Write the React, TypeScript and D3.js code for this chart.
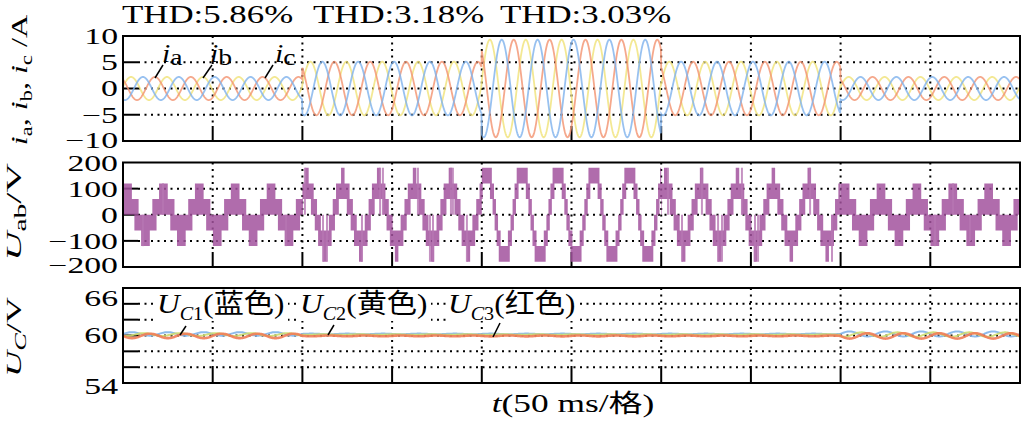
import React from "react";
import * as d3 from "d3";

const SERIF = "'Liberation Serif','Times New Roman',serif";
const CJK = "'Noto Sans CJK SC','Noto Sans CJK JP',sans-serif";

// ---------------- data ----------------
const SEGMENT_BOUNDS_MS = [0, 100, 200, 300, 400, 500];
const TIME_GRID_MS = [50, 100, 150, 200, 250, 300, 350, 400, 450];
const FUNDAMENTAL_PERIOD_MS = 20;

// phase currents: ia (red), ib (yellow), ic (blue)
const CURRENT_AMPLITUDE_A = [2.2, 5.1, 9.3, 5.1, 2.2];
const CURRENT_PEAK_MS = [17.8, 24.5, 11.1];
const CURRENT_COLORS = ["#f2926f", "#f0e278", "#7eb2ec"];
const CURRENT_DRAW_ORDER = [1, 0, 2];

// line voltage Uab: reference amplitude per segment, cell voltage step, PWM overlap band
const UAB_REFERENCE_V = [55, 105, 175, 105, 55];
const UAB_ZERO_CROSS_MS = 17.5;
const CELL_VOLTAGE_V = 60;
const UAB_SWITCH_BAND_V = 20;
const UAB_SPIKE_MS = [11.1, 22.3, 90.9, 101.4, 111.5, 113.7, 133.2, 143.3, 144.9, 164.4, 171.1, 172.8, 182.8, 183.9, 191.7,
  303.8, 311.6, 322.7, 331.7, 333.9, 345.0, 352.3, 354.0, 383.0, 395.2, 452.6, 462.7, 472.1];
const UAB_SPIKE_V = [-120, 120, -120, 180, -180, -180, -180, 180, 180, 180, -180, -180, 180, 180, -180,
  180, -180, 180, -180, -180, 180, -180, -180, 180, -180, -120, 120, -100];

// capacitor voltages UC1 (blue), UC2 (yellow), UC3 (red)
const UC_NOMINAL_V = 60;
const UC_OFFSET_V = [0.2, 0.12, -0.05];
const UC1_RIPPLE_V = [0.22, 0.04, 0.04, 0.04, 0.32];
const UC2_RIPPLE_V = [0.18, 0.04, 0.04, 0.04, 0.28];
const UC3_RIPPLE_V = [0.28, 0.05, 0.06, 0.05, 0.34];
const UC_PHASE_MS = [0, 6.7, 10];
const UC_COLORS = ["#82b4ea", "#cddc70", "#f07c56"];

// axes
const I_TICKS = [-10, -5, 0, 5, 10];
const I_GRID = [-5, 0, 5];
const UAB_TICKS = [-200, -100, 0, 100, 200];
const UAB_GRID = [-100, 0, 100];
const UC_TICKS = [54, 60, 66];
const UC_GRID = [56, 58, 60, 62, 64];
const THD_LABELS = ["THD:5.86%", "THD:3.18%", "THD:3.03%"];
const UC_LABEL_NAMES = ["C1", "C2", "C3"];
const UC_LABEL_COLORS = ["蓝色", "黄色", "红色"];

// ---------------- layout ----------------
const X0 = 123, X1 = 1020;
const P1 = [36, 141];
const P2 = [162.5, 267];
const P3 = [288, 383];
const TICK = 15;

const x = d3.scaleLinear().domain([0, 500]).range([X0, X1]);
const yI = d3.scaleLinear().domain([-10, 10]).range([P1[1], P1[0]]);
const yU = d3.scaleLinear().domain([-200, 200]).range([P2[1], P2[0]]);
const yC = d3.scaleLinear().domain([54, 66]).range([P3[1], P3[0]]);

const segOf = (t: number) => Math.min(SEGMENT_BOUNDS_MS.length - 2, Math.max(0, d3.bisectRight(SEGMENT_BOUNDS_MS, t) - 1));
const w = (2 * Math.PI) / FUNDAMENTAL_PERIOD_MS;

const tFine = d3.range(0, 500.0001, 0.2);
const tVeryFine = d3.range(0, 500.0001, 0.05);
const tCoarse = d3.range(0, 500.0001, 0.5);

function Panel({ y0, y1, scale, grid }: { y0: number; y1: number; scale: any; grid: number[] }) {
  return (
    <g>
      {grid.map((g) => (
        <g key={"h" + g}>
          <line x1={X0} x2={X0 + TICK} y1={scale(g)} y2={scale(g)} stroke="#000" strokeWidth={2} />
          <line x1={X0 + TICK} x2={X1} y1={scale(g)} y2={scale(g)} stroke="#000" strokeWidth={2} strokeDasharray="2 4.5" />
        </g>
      ))}
      {TIME_GRID_MS.map((t) => (
        <g key={"v" + t}>
          <line x1={x(t)} x2={x(t)} y1={y0} y2={y1 - TICK} stroke="#000" strokeWidth={2} strokeDasharray="2 4.5" />
          <line x1={x(t)} x2={x(t)} y1={y1 - TICK} y2={y1} stroke="#000" strokeWidth={2} />
        </g>
      ))}
    </g>
  );
}

function Border({ y0, y1 }: { y0: number; y1: number }) {
  return <rect x={X0} y={y0} width={X1 - X0} height={y1 - y0} fill="none" stroke="#000" strokeWidth={2} />;
}

function TickLabels({ ticks, scale, nudge }: { ticks: number[]; scale: any; nudge: number[] }) {
  return (
    <g>
      {ticks.map((v, i) => (
        <g key={v} transform={`translate(118,${scale(v) + nudge[i]}) scale(1.5,1)`}>
          <text textAnchor="end" dy="0.35em" fontSize={22.5} fontFamily={SERIF}>
            {v < 0 ? "\u2212" + Math.abs(v) : String(v)}
          </text>
        </g>
      ))}
    </g>
  );
}

export default function App() {
  const currentLine = (k: number) =>
    d3.line<number>()
      .x((t) => x(t))
      .y((t) => yI(CURRENT_AMPLITUDE_A[segOf(t)] * Math.cos(w * (t - CURRENT_PEAK_MS[k]))))(tFine) || "";

  const ref = (t: number) => UAB_REFERENCE_V[segOf(t)] * Math.sin(w * (t - UAB_ZERO_CROSS_MS));
  const lo = (t: number) => Math.floor((ref(t) - UAB_SWITCH_BAND_V) / CELL_VOLTAGE_V);
  const hi = (t: number) => Math.max(lo(t) + 1, Math.ceil((ref(t) + UAB_SWITCH_BAND_V) / CELL_VOLTAGE_V));
  const uabArea =
    d3.area<number>()
      .x((t) => x(t))
      .y0((t) => yU(Math.max(-3, lo(t)) * CELL_VOLTAGE_V))
      .y1((t) => yU(Math.min(3, hi(t)) * CELL_VOLTAGE_V))
      .curve(d3.curveStepAfter)(tVeryFine) || "";

  const ripples = [UC1_RIPPLE_V, UC2_RIPPLE_V, UC3_RIPPLE_V];
  const ucLine = (k: number) =>
    d3.line<number>()
      .x((t) => x(t))
      .y((t) => yC(UC_NOMINAL_V + UC_OFFSET_V[k] + ripples[k][segOf(t)] * Math.sin(w * (t - UC_PHASE_MS[k]))))(tCoarse) || "";

  const thdX = [122, 313, 500];
  const iLabelX = [162, 210, 275];
  const iSubs = ["a", "b", "c"];
  const ucLabelX = [157, 300, 448];
  const ucLeader = [
    [180, 335, 186, 326],
    [328, 335, 334, 325],
    [493, 337, 500, 323],
  ];
  const iLeader = [
    [155, 78, 163, 65],
    [203, 78, 212, 65],
    [265, 78, 273, 65],
  ];

  return (
    <svg width={1025} height={427} viewBox="0 0 1025 427" style={{ position: "absolute", left: 0, top: 0, background: "#fff" }}>
      <rect x={0} y={0} width={1025} height={427} fill="#fff" />

      {/* THD labels */}
      {THD_LABELS.map((s, i) => (
        <g key={s + i} transform={`translate(${thdX[i]},23) scale(1.34,1)`}>
          <text fontSize={26} fontFamily={SERIF}>{s}</text>
        </g>
      ))}

      {/* ---------- panel 1: currents ---------- */}
      <Panel y0={P1[0]} y1={P1[1]} scale={yI} grid={I_GRID} />
      {CURRENT_DRAW_ORDER.map((k) => (
        <path key={k} d={currentLine(k)} fill="none" stroke={CURRENT_COLORS[k]} strokeWidth={1.8} strokeOpacity={0.8} />
      ))}
      {iLeader.map((l, i) => (
        <line key={"il" + i} x1={l[0]} y1={l[1]} x2={l[2]} y2={l[3]} stroke="#000" strokeWidth={1.5} />
      ))}
      {iSubs.map((s, i) => (
        <g key={"ilab" + i} transform={`translate(${iLabelX[i]},62) scale(1.15,1)`}>
          <text fontSize={26} fontFamily={SERIF}>
            <tspan fontStyle="italic">i</tspan>
            <tspan fontSize={24} dy={3}>{s}</tspan>
          </text>
        </g>
      ))}
      <Border y0={P1[0]} y1={P1[1]} />
      <TickLabels ticks={I_TICKS} scale={yI} nudge={[-1, 0, 0, 0, 0]} />

      {/* ---------- panel 2: Uab ---------- */}
      <Panel y0={P2[0]} y1={P2[1]} scale={yU} grid={UAB_GRID} />
      <path d={uabArea} fill="#a2529e" fillOpacity={0.85} stroke="none" />
      {UAB_SPIKE_MS.map((t, i) => (
        <line key={"sp" + i} x1={x(t)} x2={x(t)} y1={yU(0)} y2={yU(UAB_SPIKE_V[i])} stroke="#b777b3" strokeWidth={2} strokeOpacity={0.8} />
      ))}
      <Border y0={P2[0]} y1={P2[1]} />
      <TickLabels ticks={UAB_TICKS} scale={yU} nudge={[-2, 0, 0, 0, 1]} />

      {/* ---------- panel 3: UC ---------- */}
      <Panel y0={P3[0]} y1={P3[1]} scale={yC} grid={UC_GRID} />
      {[0, 1, 2].map((k) => (
        <path key={"uc" + k} d={ucLine(k)} fill="none" stroke={UC_COLORS[k]} strokeWidth={k === 2 ? 2.6 : 2} strokeOpacity={0.9} />
      ))}
      {UC_LABEL_NAMES.map((n, i) => (
        <rect key={"box" + i} x={ucLabelX[i] - 2} y={P3[0] + 1} width={133} height={32} fill="#fff" />
      ))}
      {ucLeader.map((l, i) => (
        <line key={"ul" + i} x1={l[0]} y1={l[1]} x2={l[2]} y2={l[3]} stroke="#000" strokeWidth={1.5} />
      ))}
      {UC_LABEL_NAMES.map((n, i) => (
        <g key={"ulab" + i} transform={`translate(${ucLabelX[i]},313) scale(1.12,1)`}>
          <text fontSize={28} fontFamily={SERIF}>
            <tspan fontStyle="italic">U</tspan>
            <tspan fontSize={18} dy={7} fontStyle="italic">{n[0]}</tspan>
            <tspan fontSize={18}>{n[1]}</tspan>
            <tspan dy={-7}>(</tspan>
            <tspan fontFamily={CJK} fontSize={27}>{UC_LABEL_COLORS[i]}</tspan>
            <tspan>)</tspan>
          </text>
        </g>
      ))}
      <Border y0={P3[0]} y1={P3[1]} />
      <TickLabels ticks={UC_TICKS} scale={yC} nudge={[3, 0, 10]} />

      {/* ---------- y-axis titles ---------- */}
      <g transform="translate(27,80) rotate(-90) scale(1.4,1)">
        <text textAnchor="middle" fontSize={23} fontFamily={SERIF}>
          <tspan fontStyle="italic">i</tspan>
          <tspan fontSize={16} dy={5}>a</tspan>
          <tspan dy={-5}>, </tspan>
          <tspan fontStyle="italic">i</tspan>
          <tspan fontSize={16} dy={5}>b</tspan>
          <tspan dy={-5}>, </tspan>
          <tspan fontStyle="italic">i</tspan>
          <tspan fontSize={16} dy={5}>c</tspan>
          <tspan dy={-5}> /A</tspan>
        </text>
      </g>
      <g transform="translate(21,212) rotate(-90) scale(1.85,1)">
        <text textAnchor="middle" fontSize={22} fontFamily={SERIF}>
          <tspan fontStyle="italic">U</tspan>
          <tspan fontSize={16} dy={5}>ab</tspan>
          <tspan dy={-5}>/V</tspan>
        </text>
      </g>
      <g transform="translate(21,337) rotate(-90) scale(1.65,1)">
        <text textAnchor="middle" fontSize={22} fontFamily={SERIF}>
          <tspan fontStyle="italic">U</tspan>
          <tspan fontSize={16} dy={5} fontStyle="italic">C</tspan>
          <tspan dy={-5}>/V</tspan>
        </text>
      </g>

      {/* ---------- x-axis title ---------- */}
      <g transform="translate(573,412) scale(1.36,1)">
        <text textAnchor="middle" fontSize={26} fontFamily={SERIF}>
          <tspan fontStyle="italic">t</tspan>
          <tspan>(50 ms/</tspan>
          <tspan fontFamily={CJK} fontSize={25}>格</tspan>
          <tspan>)</tspan>
        </text>
      </g>
    </svg>
  );
}
